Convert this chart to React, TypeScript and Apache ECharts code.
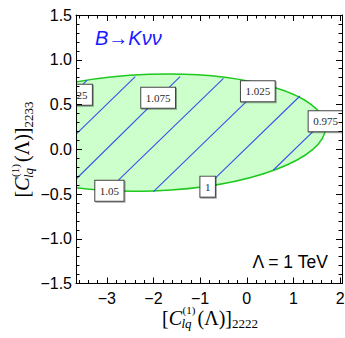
import React, { useEffect, useRef } from 'react';
import * as echarts from 'echarts';

// axis ranges
const xRange = [-3.66, 2.04];
const yRange = [-1.5, 1.5];
const yTickStep = 0.5;

// allowed region (ellipse): centre, semi-axes (data units), tilt (dy/dx)
const ellipseCenter = [-2.05, 0.186];
const ellipseSemiAxes = [3.74, 0.652];
const ellipseTilt = 0.018;

// contour lines of the ratio (start / end points in data units)
const contourLevels = ['1.125', '1.1', '1.075', '1.05', '1.025', '1', '0.975'];
const contourStart: number[][] = [
  [-3.75, 0.606], [-3.75, 0.122], [-3.75, -0.38], [-2.96, -0.45], [-2.0, -0.474], [-0.83, -0.4], [0.57, -0.232],
];
const contourEnd: number[][] = [
  [-3.42, 0.773], [-2.39, 0.811], [-1.43, 0.811], [-0.5, 0.793], [0.36, 0.72], [1.14, 0.595], [1.66, 0.32],
];

// contour labels
const labelTexts = ['1.125', '1.075', '1.05', '1.025', '1', '0.975'];
const labelPos: number[][] = [
  [-3.681, 0.61], [-1.9, 0.575], [-2.944, -0.464], [0.236, 0.649], [-0.839, -0.418], [1.687, 0.313],
];

const processText = 'B\u2192K\u03bd\u03bd';
const scaleText = '\u039b = 1 TeV';

const minus = (s: string) => s.replace('-', '\u2212');

function titleChildren(sub: string) {
  const pieces = [
    { text: '[', dx: 0, fs: 20, italic: false, dy: 0 },
    { text: 'C', dx: 6.7, fs: 20, italic: true, dy: 0 },
    { text: '(1)', dx: 20.5, fs: 11, italic: false, dy: -10.5 },
    { text: 'lq', dx: 19.5, fs: 13, italic: true, dy: 4 },
    { text: '(\u039b)]', dx: 35.5, fs: 20, italic: false, dy: 0 },
    { text: sub, dx: 70, fs: 13, italic: false, dy: 4 },
  ];
  return pieces.map((p) => ({
    type: 'text',
    x: p.dx,
    y: p.dy - 0.34 * p.fs,
    style: {
      text: p.text,
      fontFamily: 'Liberation Serif',
      fontSize: p.fs,
      lineHeight: Math.round(p.fs * 0.85),
      fontStyle: p.italic ? 'italic' : 'normal',
      fill: '#000',
      align: 'left',
      verticalAlign: 'middle',
    },
  }));
}

export default function App() {
  const ref = useRef<HTMLDivElement>(null);
  useEffect(() => {
    document.body.style.margin = '0';
    if (!ref.current) return;
    const chart = echarts.init(ref.current, undefined, { renderer: 'svg' });

    const axisCommon = {
      type: 'value' as const,
      z: 5,
      axisLine: { show: true, onZero: false, lineStyle: { color: '#000', width: 1 } },
      axisTick: { show: true, inside: true, length: 6, lineStyle: { color: '#000', width: 1 } },
      minorTick: { show: true, splitNumber: 5, length: 3.5, lineStyle: { color: '#000', width: 1 } },
      splitLine: { show: false },
      minorSplitLine: { show: false },
    };

    const option: any = {
      animation: false,
      grid: { left: 76, top: 15, right: 3, bottom: 54.5, outerBoundsMode: 'none', containLabel: false },
      xAxis: [
        {
          ...axisCommon,
          position: 'bottom',
          min: xRange[0],
          max: xRange[1],
          splitNumber: 5,
          axisLabel: {
            show: true,
            margin: 7,
            fontSize: 16,
            fontFamily: 'Liberation Sans',
            color: '#000',
            formatter: (v: number) => (Math.abs(v - Math.round(v)) > 1e-6 ? '' : minus(String(Math.round(v)))),
          },
        },
        {
          ...axisCommon,
          position: 'top',
          min: xRange[0],
          max: xRange[1],
          splitNumber: 5,
          axisLabel: { show: false },
        },
      ],
      yAxis: [
        {
          ...axisCommon,
          position: 'left',
          min: yRange[0],
          max: yRange[1],
          interval: yTickStep,
          axisLabel: {
            show: true,
            margin: 4,
            fontSize: 16,
            fontFamily: 'Liberation Sans',
            color: '#000',
            formatter: (v: number) => minus(v.toFixed(1)),
          },
        },
        {
          ...axisCommon,
          position: 'right',
          min: yRange[0],
          max: yRange[1],
          interval: yTickStep,
          axisLabel: { show: false },
        },
      ],
      series: [
        {
          type: 'custom',
          xAxisIndex: 0,
          yAxisIndex: 0,
          clip: true,
          silent: true,
          data: [[0, 0]],
          renderItem: (params: any, api: any) => {
            const cs = params.coordSys;
            const children: any[] = [];
            const c = api.coord(ellipseCenter);
            const sz = api.size(ellipseSemiAxes);
            const unit = api.size([1, 1]);
            const pxSlope = (ellipseTilt * unit[1]) / unit[0];
            children.push({
              type: 'ellipse',
              x: c[0],
              y: c[1],
              rotation: Math.atan(pxSlope),
              shape: { cx: 0, cy: 0, rx: sz[0], ry: sz[1] },
              style: { fill: '#ccffcc', stroke: '#1ec81e', lineWidth: 1.5 },
            });
            contourLevels.forEach((_, i) => {
              const a = api.coord(contourStart[i]);
              const b = api.coord(contourEnd[i]);
              children.push({
                type: 'line',
                shape: { x1: a[0], y1: a[1], x2: b[0], y2: b[1] },
                style: { stroke: '#3552ea', lineWidth: 1.1 },
              });
            });
            labelTexts.forEach((t, i) => {
              const p = api.coord(labelPos[i]);
              children.push({
                type: 'text',
                x: p[0],
                y: p[1],
                style: {
                  text: t,
                  align: 'center',
                  verticalAlign: 'middle',
                  fontFamily: 'Liberation Serif',
                  fontSize: 11,
                  lineHeight: 12,
                  fill: '#2a2a2a',
                  backgroundColor: '#fff',
                  borderColor: '#444',
                  borderWidth: 1,
                  padding: [4, 4.5],
                  shadowColor: 'rgba(0,0,0,0.35)',
                  shadowOffsetX: 1,
                  shadowOffsetY: 1,
                  shadowBlur: 1,
                },
              });
            });
            return {
              type: 'group',
              children,
              clipPath: { type: 'rect', shape: { x: cs.x, y: cs.y, width: cs.width, height: cs.height } },
            };
          },
        },
      ],
      graphic: [
        {
          type: 'text',
          left: 95,
          top: 28,
          z: 10,
          style: {
            text: processText,
            fontFamily: 'Liberation Sans',
            fontStyle: 'italic',
            fontSize: 20,
            fill: '#1a1aff',
          },
        },
        {
          type: 'text',
          x: 328,
          y: 261.7,
          z: 10,
          style: {
            text: scaleText,
            fontFamily: 'Liberation Sans',
            fontSize: 17.5,
            fill: '#000',
            align: 'right',
            verticalAlign: 'middle',
          },
        },
        {
          type: 'group',
          x: 162,
          y: 324.3,
          children: titleChildren('2222'),
        },
        {
          type: 'group',
          x: 29,
          y: 197.5,
          rotation: Math.PI / 2,
          children: titleChildren('2233'),
        },
      ],
    };

    chart.setOption(option);
    return () => chart.dispose();
  }, []);

  return <div ref={ref} style={{ width: 345, height: 338 }} />;
}
